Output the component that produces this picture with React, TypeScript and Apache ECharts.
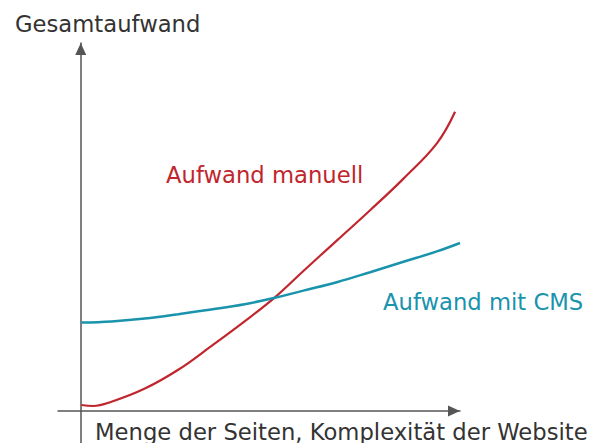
import React, { useEffect, useRef } from "react";
import * as echarts from "echarts";

// Data (x: amount/complexity, y: total effort; arbitrary units)
const manualX = [0.15, 3.2, 8.1, 16.9, 25.7, 34.4, 43.2, 51.2, 58.7, 67.5, 76.3, 85.1, 93.9, 98.7];
const manualY = [1.5, 1.25, 2.3, 5.6, 10.3, 16.2, 22.4, 28.4, 35, 42.6, 50.2, 58.1, 66.9, 74.8];
const cmsX = [0.15, 8.1, 16.9, 25.7, 34.4, 43.2, 51.2, 58.7, 67.5, 76.3, 85.1, 93.9, 100];
const cmsY = [22.1, 22.4, 23.1, 24.2, 25.4, 26.7, 28.3, 30.1, 32.2, 34.7, 37.3, 39.9, 42];

const yAxisTitle = "Gesamtaufwand";
const xAxisTitle = "Menge der Seiten, Komplexität der Website";
const manualLabel = "Aufwand manuell";
const cmsLabel = "Aufwand mit CMS";

const RED = "#c0262d";
const BLUE = "#1a93ad";
const AXIS = "#555555";
const FONT = "DejaVu Sans";
const FS = 22.7;

export default function App() {
  const ref = useRef<HTMLDivElement>(null);
  useEffect(() => {
    if (!ref.current) return;
    const chart = echarts.init(ref.current, null, { renderer: "svg" });
    const axisCommon = {
      type: "value" as const,
      axisLine: {
        show: true,
        onZero: true,
        symbol: ["none", "triangle"],
        symbolSize: [11, 12],
        symbolOffset: [0, -6],
        lineStyle: { color: AXIS, width: 1.5 },
      },
      axisTick: { show: false },
      axisLabel: { show: false },
      splitLine: { show: false },
    };
    chart.setOption({
      animation: false,
      backgroundColor: "#ffffff",
      grid: { left: 58, right: 601 - 460, top: 43, bottom: 0, containLabel: false },
      xAxis: { ...axisCommon, min: -6, max: 100 },
      yAxis: { ...axisCommon, min: -8, max: 92 },
      series: [
        {
          name: manualLabel,
          type: "line",
          data: manualX.map((x, i) => [x, manualY[i]]),
          smooth: 0.4,
          showSymbol: false,
          clip: false,
          lineStyle: { color: RED, width: 2.2 },
        },
        {
          name: cmsLabel,
          type: "line",
          data: cmsX.map((x, i) => [x, cmsY[i]]),
          smooth: 0.4,
          showSymbol: false,
          clip: false,
          lineStyle: { color: BLUE, width: 2.5 },
        },
      ],
      graphic: [
        {
          type: "text",
          left: 15,
          top: 12,
          style: { text: yAxisTitle, fill: "#333", font: `${FS}px '${FONT}'` },
        },
        {
          type: "text",
          left: 95,
          top: 420,
          style: { text: xAxisTitle, fill: "#333", font: `${FS}px '${FONT}'` },
        },
        {
          type: "text",
          left: 166,
          top: 163,
          style: { text: manualLabel, fill: RED, font: `${FS}px '${FONT}'` },
        },
        {
          type: "text",
          left: 383,
          top: 290,
          style: { text: cmsLabel, fill: BLUE, font: `${FS}px '${FONT}'` },
        },
      ],
    });
    return () => chart.dispose();
  }, []);
  return <div ref={ref} style={{ width: 601, height: 443, position: "absolute", left: 0, top: 0 }} />;
}
